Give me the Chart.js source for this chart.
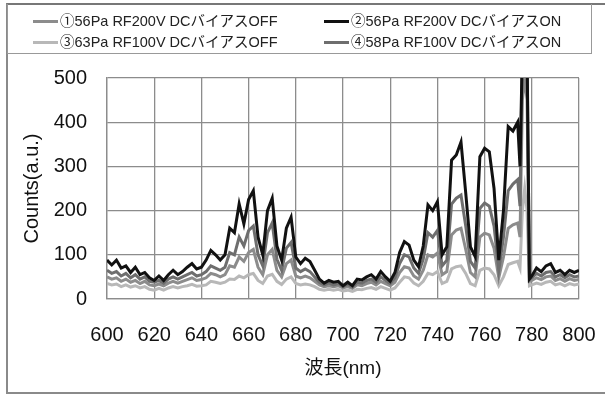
<!DOCTYPE html>
<html>
<head>
<meta charset="utf-8">
<script src="https://cdn.jsdelivr.net/npm/chart.js@4.4.1/dist/chart.umd.min.js"></script>
<style>
  html, body { margin: 0; padding: 0; background: #fff; }
  #wrap { position: relative; width: 605px; height: 394px; overflow: hidden; }
  #frame { position: absolute; left: 6px; top: 3px; width: 640px; height: 387px;
           border-left: 2px solid #8a8a8a; border-bottom: 2px solid #8a8a8a; border-top: 2px solid #777; }
  #legend { position: absolute; left: 7px; top: 4px; width: 585px; height: 50px;
            border: 1px solid #999; border-top: none; box-sizing: border-box;
            font: 14.5px "Liberation Sans", "Noto Sans CJK JP", sans-serif; color: #222; }
  .item { position: absolute; white-space: nowrap; line-height: 16px; }
  .item i { display: inline-block; width: 25px; height: 3px; vertical-align: middle; margin-right: 2px; position: relative; top: -1px; }
  canvas { position: absolute; left: 0; top: 0; }
</style>
</head>
<body>
<div id="wrap">
  <div id="frame"></div>
  <canvas id="chart" width="605" height="394"></canvas>
  <div id="legend"></div>
</div>
<script>
const wavelength = [600,602,604,606,608,610,612,614,616,618,620,622,624,626,628,630,632,634,636,638,
  640,642,644,646,648,650,652,654,656,658,660,662,664,666,668,670,672,674,676,678,
  680,682,684,686,688,690,692,694,696,698,700,702,704,706,708,710,712,714,716,718,
  720,722,724,726,728,730,732,734,736,738,740,742,744,746,748,750,752,754,756,758,
  760,762,764,766,768,770,772,774,775,776,777,778,779,780,782,784,786,788,790,792,
  794,796,798,800]

// ①56Pa RF200V DC bias OFF
const s1 = [50,45,48,40,45,38,42,35,40,32,30,34,30,36,40,36,40,44,48,42,
  44,48,58,55,50,55,75,72,95,85,105,112,72,55,100,112,65,50,80,88,
  52,48,52,48,40,32,28,30,28,30,25,28,24,32,30,35,38,32,40,35,
  30,38,60,73,70,52,45,65,100,95,104,55,62,145,156,160,112,60,50,140,
  149,145,115,48,95,160,168,172,140,450,500,450,40,42,48,44,50,52,42,46,
  40,46,42,44]

// ②56Pa RF200V DC bias ON
const s2 = [88,77,88,70,75,60,72,55,60,48,42,52,42,55,65,55,62,72,80,68,
  72,88,110,100,88,100,160,150,215,170,225,245,140,100,200,228,120,88,160,185,
  95,80,92,85,65,45,36,42,38,40,30,38,30,45,43,50,55,45,62,50,
  40,60,105,130,122,88,73,120,213,200,220,100,118,314,326,355,240,118,96,322,
  341,333,250,88,200,390,380,400,300,560,600,560,45,52,70,62,75,80,60,65,
  55,65,60,65]

// ③63Pa RF100V DC bias OFF
const s3 = [35,32,34,28,32,27,30,25,28,22,20,24,20,25,28,25,28,30,33,29,
  30,32,40,38,35,38,45,44,52,48,55,58,42,35,52,56,40,33,45,50,
  35,32,34,32,28,22,20,22,20,22,18,20,17,22,21,24,26,22,28,24,
  20,25,38,50,48,36,30,40,58,55,62,35,40,68,73,75,58,35,30,65,
  70,68,55,30,50,78,82,85,70,200,250,200,30,32,36,33,38,40,32,35,
  30,35,32,34]

// ④58Pa RF100V DC bias ON
const s4 = [65,58,62,52,58,48,55,45,50,40,38,42,36,45,50,45,50,55,60,52,
  55,62,75,70,65,72,105,100,140,120,155,165,100,75,150,172,90,65,115,128,
  70,62,68,62,50,38,32,36,32,35,28,33,27,38,36,42,45,38,50,42,
  35,48,80,100,95,70,58,90,150,140,155,75,88,215,228,235,165,85,70,205,
  217,210,165,65,140,245,260,270,210,560,580,540,45,48,58,52,60,62,50,55,
  48,55,50,52]

const labels = ['①56Pa RF200V DCバイアスOFF', '②56Pa RF200V DCバイアスON',
  '③63Pa RF100V DCバイアスOFF', '④58Pa RF100V DCバイアスON']
const colors = ['#8c8c8c', '#111111', '#b8b8b8', '#6e6e6e']
const drawOrder = [2, 0, 3, 1]
const series = [s1, s2, s3, s4]

function points(vals){
  return wavelength.map((w, i) => ({x: w, y: vals[i]}))
}

const datasets = series.map((vals, i) => ({
  label: labels[i],
  data: points(vals),
  borderColor: colors[i],
  borderWidth: 3,
  pointRadius: 0,
  tension: 0,
  fill: false,
  order: drawOrder[i],
  clip: 0
}))

// legend in two columns, inside the top box
const legend = document.getElementById('legend')
const spots = [[25, 9], [316, 9], [25, 30], [316, 30]]
labels.forEach((t, i) => {
  const d = document.createElement('div')
  d.className = 'item'
  d.style.left = spots[i][0] + 'px'
  d.style.top = spots[i][1] + 'px'
  d.innerHTML = '<i style="background:' + colors[i] + '"></i>' + t
  legend.appendChild(d)
})

const font = '"Liberation Sans", "Noto Sans CJK JP", sans-serif'
new Chart(document.getElementById('chart'), {
  type: 'line',
  data: { datasets },
  options: {
    responsive: false,
    animation: false,
    layout: { padding: { left: 0, right: 26, top: 78, bottom: 0 } },
    plugins: { legend: { display: false }, tooltip: { enabled: false } },
    scales: {
      x: {
        type: 'linear', min: 600, max: 800,
        // tick padding would otherwise widen the right margin
        afterFit: s => { s.height = 95; s.paddingRight = 17; s.paddingLeft = 17 },
        ticks: { stepSize: 20, padding: 24, color: '#111', font: { family: font, size: 20 } },
        grid: { color: '#8c8c8c', lineWidth: 1.3, drawTicks: false },
        border: { color: '#8c8c8c', width: 1.3 },
        title: { display: true, text: '波長(nm)', color: '#111', font: { family: font, size: 19 }, padding: { top: 0, bottom: 14 } }
      },
      y: {
        min: 0, max: 500,
        afterFit: s => { s.width = 107 },
        ticks: { stepSize: 100, padding: 20, color: '#111', font: { family: font, size: 20 } },
        grid: { color: '#8c8c8c', lineWidth: 1.3, drawTicks: false },
        border: { color: '#8c8c8c', width: 1.3 },
        title: { display: true, text: 'Counts(a.u.)', color: '#111', font: { family: font, size: 20 }, padding: { top: 20 } }
      }
    }
  }
})
</script>
</body>
</html>
